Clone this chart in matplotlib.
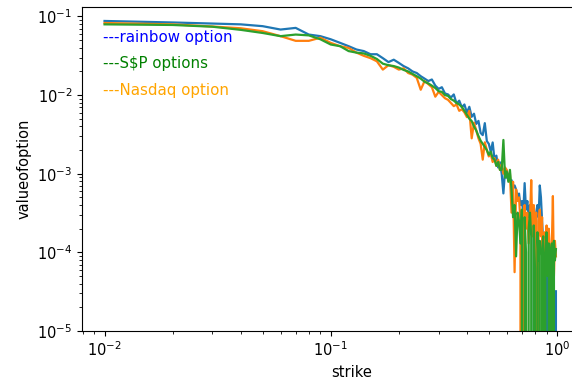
import numpy as np
import matplotlib
matplotlib.use("Agg")
from matplotlib import pyplot as plt

# strike grid 0.01 .. 0.99
strike = np.round(np.arange(1, 100) / 100, 2)

rainbow = [0.0877, 0.0839, 0.0813, 0.0794, 0.0753, 0.0682, 0.0716, 0.0589, 0.0562, 0.0513,
           0.0462, 0.0419, 0.0380, 0.0363, 0.0331, 0.0331, 0.0295, 0.0263, 0.0282, 0.0257,
           0.0234, 0.0219, 0.0200, 0.0191, 0.0174, 0.0162, 0.0151, 0.0158, 0.0132, 0.0120,
           0.0126, 0.0105, 0.0102, 0.00933, 0.0102, 0.0078, 0.0085, 0.0070, 0.0076, 0.0060,
           0.0071, 0.0053, 0.0058, 0.0043, 0.0047, 0.0033, 0.0031, 0.0044, 0.0026, 0.0024,
           0.0019, 0.0025, 0.0015, 0.0017, 0.0012, 0.0014, 0.0010, 0.000562, 0.00112, 0.00089,
           0.0010, 0.00079, 0.00083, 0.00066, 0.00071, 0.00063, 0.00050, 0.00056, 0.00040, 0.00045,
           0.00032, 0.00076, 0.00035, 0.00045, 0.00028, 0.00040, 0.00025, 0.00035, 0.00020, 0,
           0.00032, 0.00040, 0.00028, 0.00071, 0.00050, 0.00025, 0.00013, 0.00010, 0, 0.000063,
           0.00010, 0, 0.00005, 0.000079, 0, 0.00004, 0.000063, 0, 0.000032]

nasdaq = [0.0826, 0.0794, 0.0746, 0.0708, 0.0650, 0.0562, 0.0490, 0.0490, 0.0537, 0.0462,
          0.0419, 0.0398, 0.0347, 0.0316, 0.0295, 0.0269, 0.0211, 0.0240, 0.0229, 0.0211,
          0.0219, 0.0191, 0.0182, 0.0166, 0.0117, 0.0151, 0.0138, 0.0126, 0.00955, 0.0110,
          0.0100, 0.00912, 0.00871, 0.00794, 0.00724, 0.00759, 0.00631, 0.00660, 0.00603, 0.00525,
          0.00631, 0.00282, 0.00447, 0.00355, 0.00282, 0.00240, 0.00151, 0.00251, 0.00200, 0.00166,
          0.00178, 0.00141, 0.00158, 0.00126, 0.00151, 0.00112, 0.00132, 0.00100, 0.00120, 0.00112,
          0.00089, 0.00100, 0.00032, 0.00079, 0.000056, 0.00063, 0.00045, 0.00050, 0.00025, 0,
          0.00032, 0.00040, 0.00020, 0.00032, 0.00013, 0.00025, 0.00083, 0.00016, 0.00040, 0.00020,
          0.00032, 0, 0.00025, 0.00035, 0.00016, 0.00028, 0, 0.00018, 0.00013, 0.00022,
          0.00010, 0.00020, 0.00011, 0.000063, 0.00013, 0.00052, 0.00005, 0.00014, 0.000089]

snp = [0.0794, 0.0780, 0.0741, 0.0676, 0.0617, 0.0562, 0.0589, 0.0575, 0.0513, 0.0440,
       0.0419, 0.0363, 0.0347, 0.0339, 0.0316, 0.0288, 0.0251, 0.0240, 0.0234, 0.0224,
       0.0209, 0.0200, 0.0186, 0.0174, 0.0162, 0.0148, 0.0141, 0.0132, 0.0123, 0.0112,
       0.0110, 0.0100, 0.00977, 0.00891, 0.00851, 0.00794, 0.00759, 0.00708, 0.00631, 0.00562,
       0.00501, 0.00468, 0.00398, 0.00355, 0.00302, 0.00263, 0.00240, 0.00219, 0.00200, 0.00174,
       0.00191, 0.00158, 0.00151, 0.00126, 0.00141, 0.00112, 0.00112, 0.00269, 0.00089, 0.00107,
       0.00079, 0.00112, 0.00063, 0.00028, 0.00040, 0.000089, 0.00032, 0.00025, 0.00013, 0.00035,
       0, 0.00028, 0.00010, 0, 0.00020, 0.00032, 0.00016, 0, 0.00022, 0.000063,
       0, 0.00018, 0.000079, 0.00014, 0, 0.00011, 0.00016, 0, 0.00010, 0.00018,
       0.00005, 0.00013, 0, 0.00010, 0.00013, 0, 0.00014, 0.000079, 0.00011]

labels = ['---rainbow option', '---S$P options', '---Nasdaq option']
label_colors = ['blue', 'green', 'orange']
label_y = [0.047, 0.0222, 0.0101]

plt.rcParams['font.size'] = 10.5

fig = plt.figure(figsize=(5.72, 3.88), dpi=100)
# axes run past the right edge of the figure, as in the cropped original
ax = fig.add_axes([82 / 572, 57 / 388, 540 / 572, 324 / 388])

ax.plot(strike, rainbow, lw=1.6)
ax.plot(strike, nasdaq, lw=1.6)
ax.plot(strike, snp, lw=1.6)
ax.set_xscale('log')
ax.set_yscale('log')

for t, c, y in zip(labels, label_colors, label_y):
    ax.text(0.0098, y, t, color=c, fontsize=10.8)

ax.set_xlim(0.00795, 1.94)
ax.set_ylim(1e-5, 0.132)
ax.set_xlabel('strike')
ax.set_ylabel('valueofoption')

fig.savefig('out.png', dpi=100)
